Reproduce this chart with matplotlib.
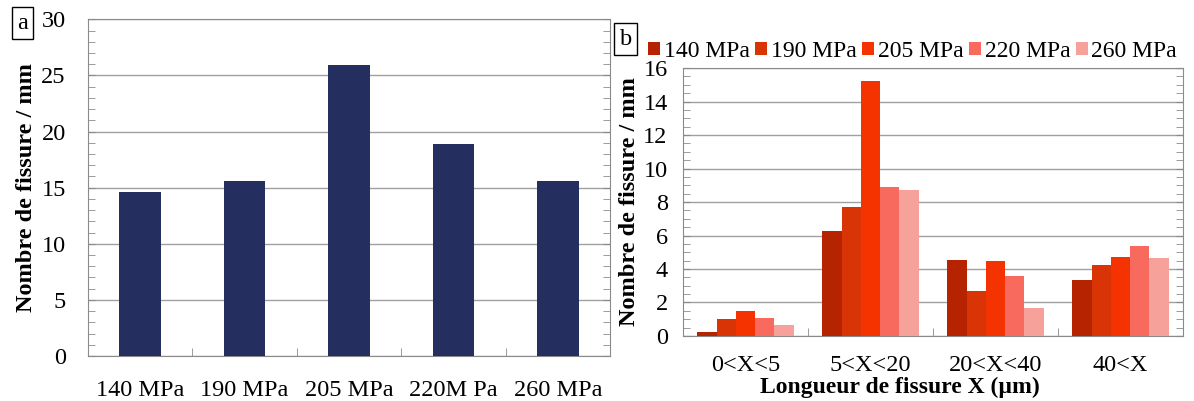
import matplotlib.pyplot as plt
import numpy as np
from matplotlib.ticker import MultipleLocator, FixedLocator

plt.rcParams['font.family'] = ['Liberation Serif', 'DejaVu Serif']

# panel a
pressures_a = ["140 MPa", "190 MPa", "205 MPa", "220M Pa", "260 MPa"]
cracks_a = [14.6, 15.6, 25.9, 18.9, 15.6]

# panel b
lengths = ["0<X<5", "5<X<20", "20<X<40", "40<X"]
series_names = ["140 MPa", "190 MPa", "205 MPa", "220 MPa", "260 MPa"]
s140 = [0.25, 6.25, 4.55, 3.35]
s190 = [1.0, 7.7, 2.7, 4.22]
s205 = [1.5, 15.2, 4.46, 4.72]
s220 = [1.1, 8.9, 3.56, 5.36]
s260 = [0.65, 8.7, 1.66, 4.68]
series_b = [s140, s190, s205, s220, s260]
colors_b = ["#b52300", "#d93405", "#f53300", "#f86a5e", "#f7a19b"]

frame_col = "#8a8a8a"
fs = 17.5
fl = 17.5

fig = plt.figure(figsize=(11.94, 4.01), dpi=100)

# ---- panel a
ax = fig.add_axes([0.0737, 0.1122, 0.4372, 0.8397])
x = np.arange(len(pressures_a))
ax.bar(x, cracks_a, width=0.4, color="#252f5f", zorder=3)
ax.set_xlim(-0.5, 4.5)
ax.set_ylim(0, 30)
ax.yaxis.set_major_locator(MultipleLocator(5))
ax.yaxis.set_minor_locator(MultipleLocator(1))
ax.grid(axis="y", color="#a0a0a0", lw=1, zorder=0)
ax.set_xticks(x)
ax.set_xticklabels(pressures_a, fontsize=fs)
ax.xaxis.set_minor_locator(FixedLocator(np.arange(0.5, 4.5, 1)))
ax.tick_params(axis="x", which="major", length=0, pad=17)
ax.tick_params(axis="x", which="minor", direction="in", length=6, color=frame_col)
ax.tick_params(axis="y", which="both", direction="in", left=True, right=True,
               length=5, color=frame_col, labelsize=fs, pad=16)
ax.set_ylabel("Nombre de fissure / mm", fontsize=fl, fontweight="bold")
ax.yaxis.set_label_coords(-0.098, 0.5)
for sp in ax.spines.values():
    sp.set_color(frame_col)

# ---- panel b
bx = fig.add_axes([0.572, 0.1621, 0.4188, 0.6683])
xb = np.arange(len(lengths))
w = 0.154
for i, (vals, name, c) in enumerate(zip(series_b, series_names, colors_b)):
    bx.bar(xb + (i - 2) * w, vals, width=w, color=c, label=name, zorder=3)
bx.set_xlim(-0.5, 3.5)
bx.set_ylim(0, 16)
bx.yaxis.set_major_locator(MultipleLocator(2))
bx.yaxis.set_minor_locator(MultipleLocator(0.5))
bx.grid(axis="y", color="#a0a0a0", lw=1, zorder=0)
bx.set_xticks(xb)
bx.set_xticklabels(lengths, fontsize=fs)
bx.xaxis.set_minor_locator(FixedLocator(np.arange(0.5, 3.5, 1)))
bx.tick_params(axis="x", which="major", length=0, pad=14)
bx.tick_params(axis="x", which="minor", direction="in", length=6, color=frame_col)
bx.tick_params(axis="y", which="both", direction="in", left=True, right=True,
               length=5, color=frame_col, labelsize=fs, pad=11)
bx.set_ylabel("Nombre de fissure / mm", fontsize=fl, fontweight="bold")
bx.yaxis.set_label_coords(-0.085, 0.5)
bx.set_xlabel("Longueur de fissure X (µm)", fontsize=17, fontweight="bold")
bx.xaxis.set_label_coords(0.434, -0.152)
for sp in bx.spines.values():
    sp.set_color(frame_col)
bx.legend(loc="lower right", bbox_to_anchor=(1.0, 1.0), ncol=5, frameon=False,
          fontsize=17, handlelength=0.5, handleheight=0.5, handletextpad=0.15,
          columnspacing=0.25, borderpad=0.1, borderaxespad=0.15)

# panel letters
box = dict(boxstyle="square,pad=0.22", fc="white", ec="black", lw=1)
fig.text(0.019, 0.942, "a", fontsize=fs, ha="center", va="center", bbox=box)
fig.text(0.524, 0.902, "b", fontsize=fs, ha="center", va="center", bbox=box)

fig.savefig("out.png", dpi=100)
